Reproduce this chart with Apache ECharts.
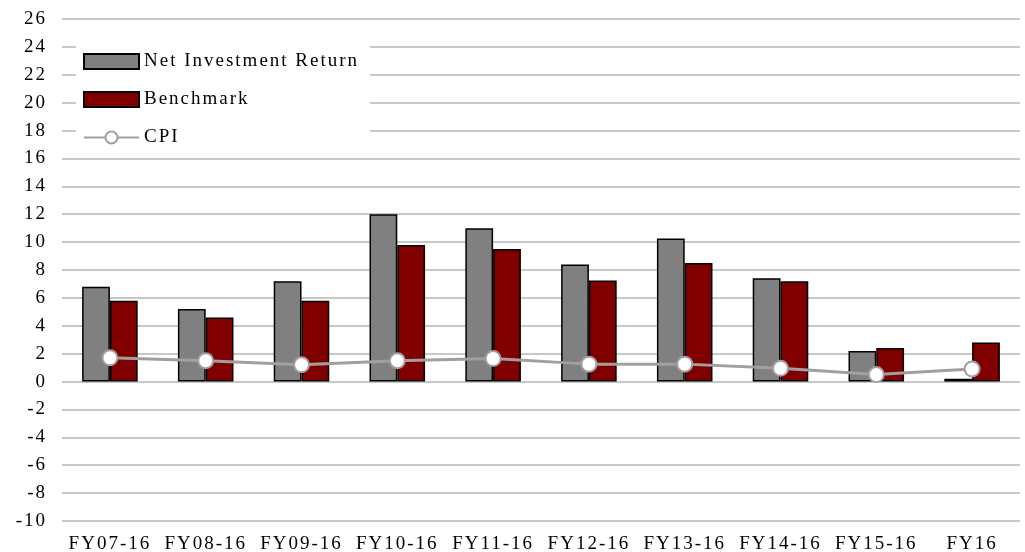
<!DOCTYPE html>
<html>
<head>
<meta charset="utf-8">
<script src="https://cdn.jsdelivr.net/npm/echarts@6/dist/echarts.min.js"></script>
<style>
  html, body { margin: 0; padding: 0; background: #fff; }
  #chart { width: 1025px; height: 552px; }
</style>
</head>
<body>
<div id="chart"></div>
<script>
// 数据
const categories = ['FY07-16', 'FY08-16', 'FY09-16', 'FY10-16', 'FY11-16', 'FY12-16', 'FY13-16', 'FY14-16', 'FY15-16', 'FY16']
const netReturn = [6.8, 5.2, 7.2, 12.0, 11.0, 8.4, 10.25, 7.4, 2.2, 0.2]
const benchmark = [5.8, 4.6, 5.8, 9.8, 9.5, 7.25, 8.5, 7.2, 2.4, 2.8]
const cpi = [1.7, 1.5, 1.2, 1.5, 1.65, 1.25, 1.25, 0.95, 0.5, 0.9]

// 参考图的 Times 字体字距较宽，canvas 上补一点字距
const proto = CanvasRenderingContext2D.prototype
const origFill = proto.fillText
const origMeasure = proto.measureText
proto.fillText = function (...args) { this.letterSpacing = '2px'; return origFill.apply(this, args) }
proto.measureText = function (...args) { this.letterSpacing = '2px'; return origMeasure.apply(this, args) }

const font = 'Liberation Serif'
const chart = echarts.init(document.getElementById('chart'))

const option = {
  animation: false,
  textStyle: { fontFamily: font },
  grid: { left: 62, right: 5, top: 19, bottom: 31, outerBoundsMode: 'none' },
  legend: {
    orient: 'vertical',
    left: 76,
    top: 44,
    padding: [7, 11, 4, 7],
    backgroundColor: '#fff',
    itemWidth: 55,
    itemHeight: 15,
    itemGap: 17,
    textStyle: { fontFamily: font, fontSize: 19, color: '#000' },
    data: [
      { name: 'Net Investment Return', icon: 'rect' },
      { name: 'Benchmark', icon: 'rect' },
      { name: 'CPI' },
    ],
  },
  xAxis: {
    type: 'category',
    data: categories,
    axisLine: { show: false },
    axisTick: { show: false },
    axisLabel: { fontFamily: font, fontSize: 19, color: '#000', margin: 13, interval: 0 },
  },
  yAxis: {
    type: 'value',
    min: -10,
    max: 26,
    interval: 2,
    axisLabel: { fontFamily: font, fontSize: 19, color: '#000', margin: 15 },
    splitLine: { lineStyle: { color: '#c8c8c8', width: 2 } },
  },
  series: [
    {
      name: 'Net Investment Return',
      type: 'bar',
      data: netReturn,
      barGap: '0%',
      barCategoryGap: '42%',
      itemStyle: { color: '#808080', borderColor: '#000', borderWidth: 1.5 },
    },
    {
      name: 'Benchmark',
      type: 'bar',
      data: benchmark,
      itemStyle: { color: '#800000', borderColor: '#000', borderWidth: 1.5 },
    },
    {
      name: 'CPI',
      type: 'line',
      data: cpi,
      symbol: 'circle',
      symbolSize: 15,
      lineStyle: { color: '#a0a0a0', width: 3 },
      itemStyle: { color: '#fff', borderColor: '#a0a0a0', borderWidth: 2 },
      z: 5,
    },
  ],
}

chart.setOption(option)
</script>
</body>
</html>
